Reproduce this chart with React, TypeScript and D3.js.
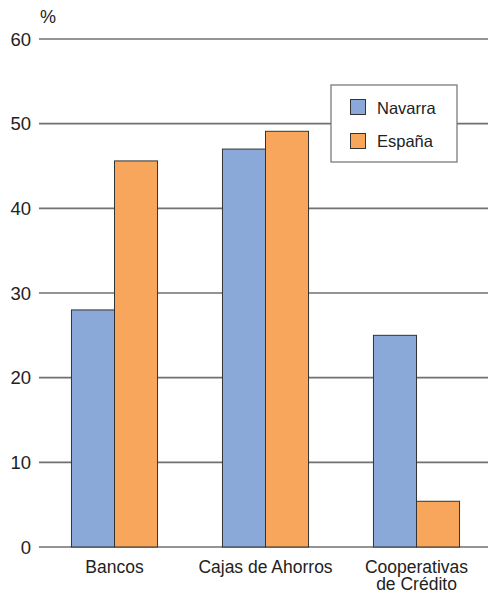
import React from "react";
import * as d3 from "d3";

const categories = ["Bancos", "Cajas de Ahorros", "Cooperativas\nde Crédito"];
const seriesNames = ["Navarra", "España"];
const navarra = [28.0, 47.0, 25.0];
const espana = [45.6, 49.1, 5.4];
const yTicks = [0, 10, 20, 30, 40, 50, 60];
const colors = ["#8aa9d8", "#f7a65b"];

const W = 488;
const H = 593;

export default function App() {
  const x = d3.scaleBand<string>().domain(categories).range([39, 492]).paddingInner(0.43).paddingOuter(0.215);
  const xs = d3.scaleBand<string>().domain(seriesNames).range([0, x.bandwidth()]);
  const y = d3.scaleLinear().domain([0, 60]).range([547, 39]);
  const series = [navarra, espana];
  const font = "'Liberation Sans', Arial, sans-serif";

  return (
    <svg width={W} height={H} style={{ position: "absolute", left: 0, top: 0, background: "#fff" }} fontFamily={font}>
      <text x={40} y={23} fontSize={18} fill="#222">%</text>
      {yTicks.map((t) => (
        <g key={t}>
          <line x1={39} x2={W} y1={y(t)} y2={y(t)} stroke="#707070" strokeWidth={1.6} />
          <text x={31} y={y(t)} dy="0.36em" textAnchor="end" fontSize={18.5} fill="#222">{t}</text>
        </g>
      ))}
      {categories.map((c, i) => (
        <g key={c}>
          {seriesNames.map((s, j) => (
            <rect
              key={s}
              x={(x(c) as number) + (xs(s) as number)}
              y={y(series[j][i])}
              width={xs.bandwidth()}
              height={y(0) - y(series[j][i])}
              fill={colors[j]}
              stroke="#333"
              strokeWidth={1}
            />
          ))}
          {c.split("\n").map((line, k) => (
            <text key={k} x={(x(c) as number) + x.bandwidth() / 2} y={573 + k * 16.5} textAnchor="middle" fontSize={17.5} fill="#222">{line}</text>
          ))}
        </g>
      ))}
      <rect x={331} y={85} width={126} height={77} fill="#fff" stroke="#707070" strokeWidth={1.2} />
      {seriesNames.map((s, j) => (
        <g key={s}>
          <rect x={350.5} y={99.5 + j * 34} width={15} height={15} fill={colors[j]} stroke="#333" strokeWidth={1} />
          <text x={377} y={114 + j * 33} fontSize={16.5} fill="#222">{s}</text>
        </g>
      ))}
    </svg>
  );
}
